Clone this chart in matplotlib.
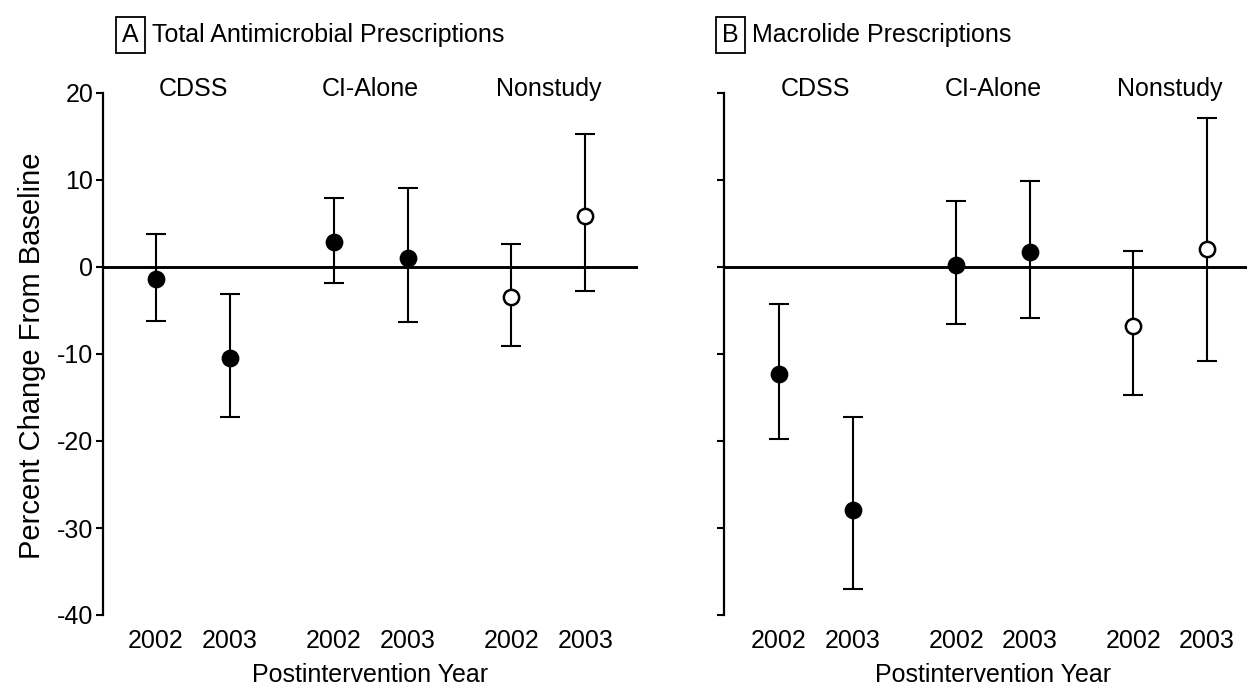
import matplotlib
matplotlib.use("Agg")
import matplotlib.pyplot as plt

plt.rcParams['font.family'] = ['Liberation Sans', 'DejaVu Sans']
plt.rcParams['axes.unicode_minus'] = False

# Study arms and postintervention years
groups = ['CDSS', 'CI-Alone', 'Nonstudy']
years = ['2002', '2003', '2002', '2003', '2002', '2003']
filled = [True, True, True, True, False, False]

# Panel A: total antimicrobial prescriptions, % change from baseline
total_est = [-1.4, -10.5, 2.9, 1.0, -3.5, 5.9]
total_lo = [-6.2, -17.2, -1.8, -6.3, -9.1, -2.8]
total_hi = [3.8, -3.1, 7.9, 9.1, 2.7, 15.3]

# Panel B: macrolide prescriptions, % change from baseline
macro_est = [-12.3, -27.9, 0.2, 1.7, -6.8, 2.1]
macro_lo = [-19.8, -37.0, -6.6, -5.9, -14.7, -10.8]
macro_hi = [-4.3, -17.2, 7.6, 9.9, 1.8, 17.1]

# x placement: pairs of years, wider gap between study arms
xpos = [0, 1, 2.4, 3.4, 4.8, 5.8]

W, H = 1247, 691
fig = plt.figure(figsize=(W / 100, H / 100), dpi=100)


def rect(x0, x1, ytop, ybot):
    return [x0 / W, 1 - ybot / H, (x1 - x0) / W, (ybot - ytop) / H]


def fx(px):
    return px / W


def fy(py):
    return 1 - py / H


FS = 18


def panel(ax, est, lo, hi, show_labels, xlim):
    ax.axhline(0, color='black', lw=2.1, zorder=1)
    for x, e, l, h, f in zip(xpos, est, lo, hi, filled):
        ax.errorbar([x], [e], yerr=[[e - l], [h - e]], fmt='none',
                    ecolor='black', elinewidth=1.5, capsize=7, capthick=1.5,
                    zorder=2, clip_on=False)
        ax.plot([x], [e], 'o', ms=11, mfc='black' if f else 'white',
                mec='black', mew=1.8, zorder=3, clip_on=False)
    ax.set_xlim(*xlim)
    ax.set_ylim(-40, 20)
    for s in ('top', 'right', 'bottom'):
        ax.spines[s].set_visible(False)
    ax.spines['left'].set_linewidth(1.6)
    ax.spines['left'].set_bounds(-40, 20)
    ax.set_yticks([-40, -30, -20, -10, 0, 10, 20])
    ax.tick_params(axis='y', length=5, width=1.5, pad=2, labelsize=FS,
                   labelleft=show_labels)
    ax.set_xticks(xpos)
    ax.set_xticklabels(years)
    ax.tick_params(axis='x', length=0, pad=10, labelsize=FS)
    for i, g in enumerate(groups):
        cx = (xpos[2 * i] + xpos[2 * i + 1]) / 2
        ax.text(cx, 20.5, g, ha='center', va='center', fontsize=FS)


def panel_title(box_left, text_left, letter, title):
    fig.text(fx(box_left), fy(35), letter, ha='left', va='center',
             fontsize=FS, bbox=dict(boxstyle='square,pad=0.25', fc='white',
                                    ec='black', lw=1.3))
    fig.text(fx(text_left), fy(35), title, ha='left', va='center',
             fontsize=FS)


axA = fig.add_axes(rect(103, 638, 93, 615))
panel(axA, total_est, total_lo, total_hi, True, (-0.716, 6.51))
panel_title(122, 152, 'A', 'Total Antimicrobial Prescriptions')

axB = fig.add_axes(rect(724, 1247, 93, 615))
panel(axB, macro_est, macro_lo, macro_hi, False, (-0.745, 6.34))
panel_title(722, 752, 'B', 'Macrolide Prescriptions')

fig.text(fx(32), fy(356), 'Percent Change From Baseline', rotation=90,
         ha='center', va='center', fontsize=21)
fig.text(fx(370), fy(675), 'Postintervention Year', ha='center',
         va='center', fontsize=FS)
fig.text(fx(993), fy(675), 'Postintervention Year', ha='center',
         va='center', fontsize=FS)

fig.savefig('out.png', dpi=100, facecolor='white')
